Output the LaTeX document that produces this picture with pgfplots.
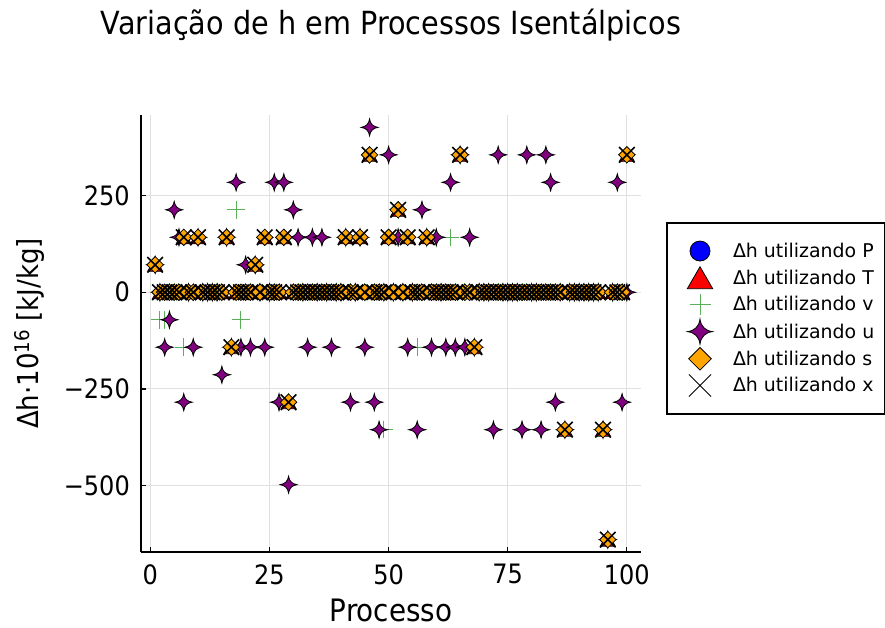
\documentclass[border=0pt]{standalone}
\usepackage{fontspec}
\setmainfont{DejaVu Sans}
\newfontfamily\narrowfont[FakeStretch=0.9]{DejaVu Sans}
\usepackage{pgfplots}
\usepackage{pgfplotstable}
\pgfplotsset{compat=1.18}

\definecolor{cP}{RGB}{0,0,255}
\definecolor{cT}{RGB}{255,0,0}
\definecolor{cV}{RGB}{90,175,90}
\definecolor{cU}{RGB}{128,0,128}
\definecolor{cS}{RGB}{255,165,0}

% four-pointed star with concave sides
\pgfdeclareplotmark{star4}{%
  \pgfpathmoveto{\pgfqpoint{0pt}{\pgfplotmarksize}}%
  \pgfpathquadraticcurveto{\pgfqpoint{0.12\pgfplotmarksize}{0.12\pgfplotmarksize}}{\pgfqpoint{\pgfplotmarksize}{0pt}}%
  \pgfpathquadraticcurveto{\pgfqpoint{0.12\pgfplotmarksize}{-0.12\pgfplotmarksize}}{\pgfqpoint{0pt}{-\pgfplotmarksize}}%
  \pgfpathquadraticcurveto{\pgfqpoint{-0.12\pgfplotmarksize}{-0.12\pgfplotmarksize}}{\pgfqpoint{-\pgfplotmarksize}{0pt}}%
  \pgfpathquadraticcurveto{\pgfqpoint{-0.12\pgfplotmarksize}{0.12\pgfplotmarksize}}{\pgfqpoint{0pt}{\pgfplotmarksize}}%
  \pgfpathclose
  \pgfusepathqfillstroke
}
% upward triangle centred on its bounding box
\pgfdeclareplotmark{gtri}{%
  \pgfpathmoveto{\pgfqpoint{0pt}{\pgfplotmarksize}}%
  \pgfpathlineto{\pgfqpoint{1.1547\pgfplotmarksize}{-\pgfplotmarksize}}%
  \pgfpathlineto{\pgfqpoint{-1.1547\pgfplotmarksize}{-\pgfplotmarksize}}%
  \pgfpathclose
  \pgfusepathqfillstroke
}

% h: same value for P, T, s and x; v and u listed separately
\pgfplotstableread{
i h v u
1 71.05 71.05 71.05
2 0 -71.05 0
3 0 -71.05 -142.1
4 0 0 -71.05
5 0 0 213.2
6 0 0 142.1
7 142.1 -142.1 -284.2
8 0 0 0
9 0 0 -142.1
10 142.1 142.1 142.1
11 0 0 0
12 0 0 0
13 0 0 0
14 0 0 0
15 0 0 -213.2
16 142.1 142.1 142.1
17 -142.1 -142.1 -142.1
18 0 213.2 284.2
19 0 -71.05 -142.1
20 0 0 71.05
21 0 0 -142.1
22 71.05 71.05 71.05
23 0 0 0
24 142.1 142.1 -142.1
25 0 0 0
26 0 0 284.2
27 0 0 -284.2
28 142.1 142.1 284.2
29 -284.2 -284.2 -497.4
30 0 0 213.2
31 0 0 142.1
32 0 0 0
33 0 0 -142.1
34 0 0 142.1
35 0 0 0
36 0 0 142.1
37 0 0 0
38 0 0 -142.1
39 0 0 0
40 0 0 0
41 142.1 142.1 142.1
42 0 0 -284.2
43 0 0 0
44 142.1 142.1 142.1
45 0 0 -142.1
46 355.3 355.3 426.3
47 0 0 -284.2
48 0 0 -355.3
49 0 -355.3 0
50 142.1 142.1 355.3
51 0 0 0
52 213.2 213.2 142.1
53 0 0 0
54 142.1 142.1 -142.1
55 0 0 0
56 0 -142.1 -355.3
57 0 0 213.2
58 142.1 142.1 142.1
59 0 0 -142.1
60 0 0 142.1
61 0 0 0
62 0 0 -142.1
63 0 142.1 284.2
64 0 0 -142.1
65 355.3 355.3 355.3
66 0 0 -142.1
67 0 0 142.1
68 -142.1 -142.1 -142.1
69 0 0 0
70 0 0 0
71 0 0 0
72 0 0 -355.3
73 0 0 355.3
74 0 0 0
75 0 0 0
76 0 0 0
77 0 0 0
78 0 0 -355.3
79 0 0 355.3
80 0 0 0
81 0 0 0
82 0 0 -355.3
83 0 0 355.3
84 0 0 284.2
85 0 0 -284.2
86 0 0 0
87 -355.3 -355.3 -355.3
88 0 0 0
89 0 0 0
90 0 0 0
91 0 0 0
92 0 0 0
93 0 0 0
94 0 0 0
95 -355.3 -355.3 -355.3
96 -639.5 -639.5 -639.5
97 0 0 0
98 0 0 284.2
99 0 0 -284.2
100 355.3 355.3 0
}\hdata

\begin{document}
\begin{tikzpicture}
\begin{axis}[
  at={(0,0)}, anchor=south west,
  scale only axis, width=500bp, height=437bp,
  xmin=-1.97, xmax=102.97, ymin=-671.5, ymax=458.3,
  axis lines=left, axis line style={-, line width=2.6bp},
  xtick={0,25,50,75,100}, xticklabels={0,25,50,75,100},
  ytick={-500,-250,0,250}, yticklabels={−500,−250,0,250},
  tick align=inside, major tick length=5bp,
  tick style={black, line width=1.2bp},
  grid=major, grid style={black!12, line width=1bp},
  tick label style={font=\narrowfont\fontsize{26.8}{32}\selectfont, inner sep=0pt},
  xticklabel shift=12bp, yticklabel shift=11bp,
  title={Variação de h em Processos Isentálpicos},
  title style={at={(0.5,1.1716)}, anchor=base, font=\narrowfont\fontsize{32}{38}\selectfont},
  xlabel={Processo},
  xlabel style={at={(0.5,-0.158)}, anchor=base, font=\narrowfont\fontsize{31}{36}\selectfont},
  ylabel={Δh·10\textsuperscript{16} [kJ/kg]},
  ylabel style={at={(-0.205,0.5)}, anchor=base, font=\narrowfont\fontsize{29}{35}\selectfont},
  legend style={at={(1.05,0.7551)}, anchor=north west, draw=black, line width=2bp,
    fill=white, font=\fontsize{19}{23}\selectfont,
    inner xsep=11bp, inner ysep=16bp, row sep=2.7bp, column sep=11bp,
    nodes={inner sep=0pt, anchor=west}},
  mk/.style={only marks, line width=0.8bp,
    legend image code/.code={\path[draw=none, fill=none] (0bp,-12bp) rectangle (44bp,12bp);
      \draw[mark repeat=2,mark phase=2,##1] plot coordinates {(0bp,0bp) (22bp,0bp) (44bp,0bp)};}},
]
\addplot[mk, mark=*, mark size=5bp, mark options={fill=cP, draw=black},
  legend image post style={mark size=10bp}] table[x=i, y=h] {\hdata};
\addplot[mk, mark=gtri, mark size=6.5bp, mark options={fill=cT, draw=black},
  legend image post style={mark size=11bp}] table[x=i, y=h] {\hdata};
\addplot[mk, mark=+, mark size=8.8bp, color=cV, line width=1bp,
  legend image post style={mark size=10.5bp}] table[x=i, y=v] {\hdata};
\addplot[mk, mark=star4, mark size=8.5bp, mark options={fill=cU, draw=black},
  legend image post style={mark size=12.5bp}] table[x=i, y=u] {\hdata};
\addplot[mk, mark=square*, mark size=5.8bp, mark options={rotate=45, fill=cS, draw=black},
  legend image post style={mark size=8bp}] table[x=i, y=h] {\hdata};
\addplot[mk, mark=x, mark size=11bp, color=black, line width=1.6bp,
  legend image post style={mark size=15.6bp, line width=0.9bp}] table[x=i, y=h] {\hdata};
\legend{Δh utilizando P, Δh utilizando T, Δh utilizando v, Δh utilizando u, Δh utilizando s, Δh utilizando x}
\end{axis}
\pgfresetboundingbox
\path[use as bounding box] (-141bp,-76bp) rectangle (744bp,552bp);
\end{tikzpicture}
\end{document}
